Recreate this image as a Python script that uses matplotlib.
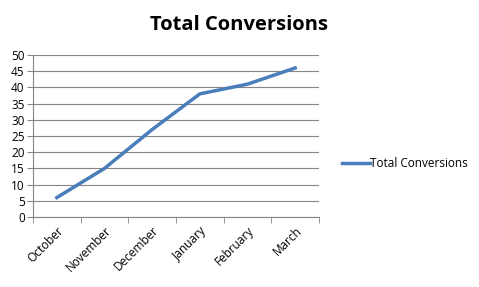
import matplotlib
matplotlib.use("Agg")
import matplotlib.pyplot as plt
import numpy as np

months = ["October", "November", "December", "January", "February", "March"]
conversions = [6, 15, 27, 38, 41, 46]
y_ticks = list(range(0, 55, 5))

plt.rcParams['font.family'] = ['Open Sans', 'DejaVu Sans']

fig = plt.figure(figsize=(4.79, 2.87), dpi=100)
ax = fig.add_axes([33 / 479, 1 - 217 / 287, (319 - 33) / 479, (217 - 55) / 287])

x = np.arange(len(months))
line, = ax.plot(x, conversions, color="#4a7ebb", linewidth=2.5, label="Total Conversions")

ax.set_xlim(-0.5, len(months) - 0.5)
ax.set_ylim(0, 50)
ax.set_yticks(y_ticks)
ax.set_yticklabels([str(v) for v in y_ticks], fontsize=8.5)
ax.yaxis.grid(True, color="#868686", linewidth=0.8)
ax.set_axisbelow(True)

# category labels centered, tick marks on boundaries
ax.set_xticks(x)
ax.set_xticklabels(months, rotation=45, ha="right", rotation_mode="anchor", fontsize=8.5)
ax.tick_params(axis="x", length=0, pad=5)
ax.set_xticks(np.arange(-0.5, len(months)), minor=True)
ax.tick_params(axis="x", which="minor", length=4, color="#868686")
ax.tick_params(axis="y", length=4, color="#868686", pad=2)

for side in ["top", "right"]:
    ax.spines[side].set_visible(False)
for side in ["left", "bottom"]:
    ax.spines[side].set_color("#868686")
    ax.spines[side].set_linewidth(0.8)

fig.text(239 / 479, 1 - 25 / 287, "Total Conversions", ha="center", va="center",
         fontsize=14.5, fontweight="bold")

fig.legend(handles=[line], loc="center left", bbox_to_anchor=(331 / 479, 1 - 164 / 287),
           frameon=False, fontsize=8.5, handlelength=2.4, handletextpad=0.0)

fig.savefig("out.png", dpi=100)
